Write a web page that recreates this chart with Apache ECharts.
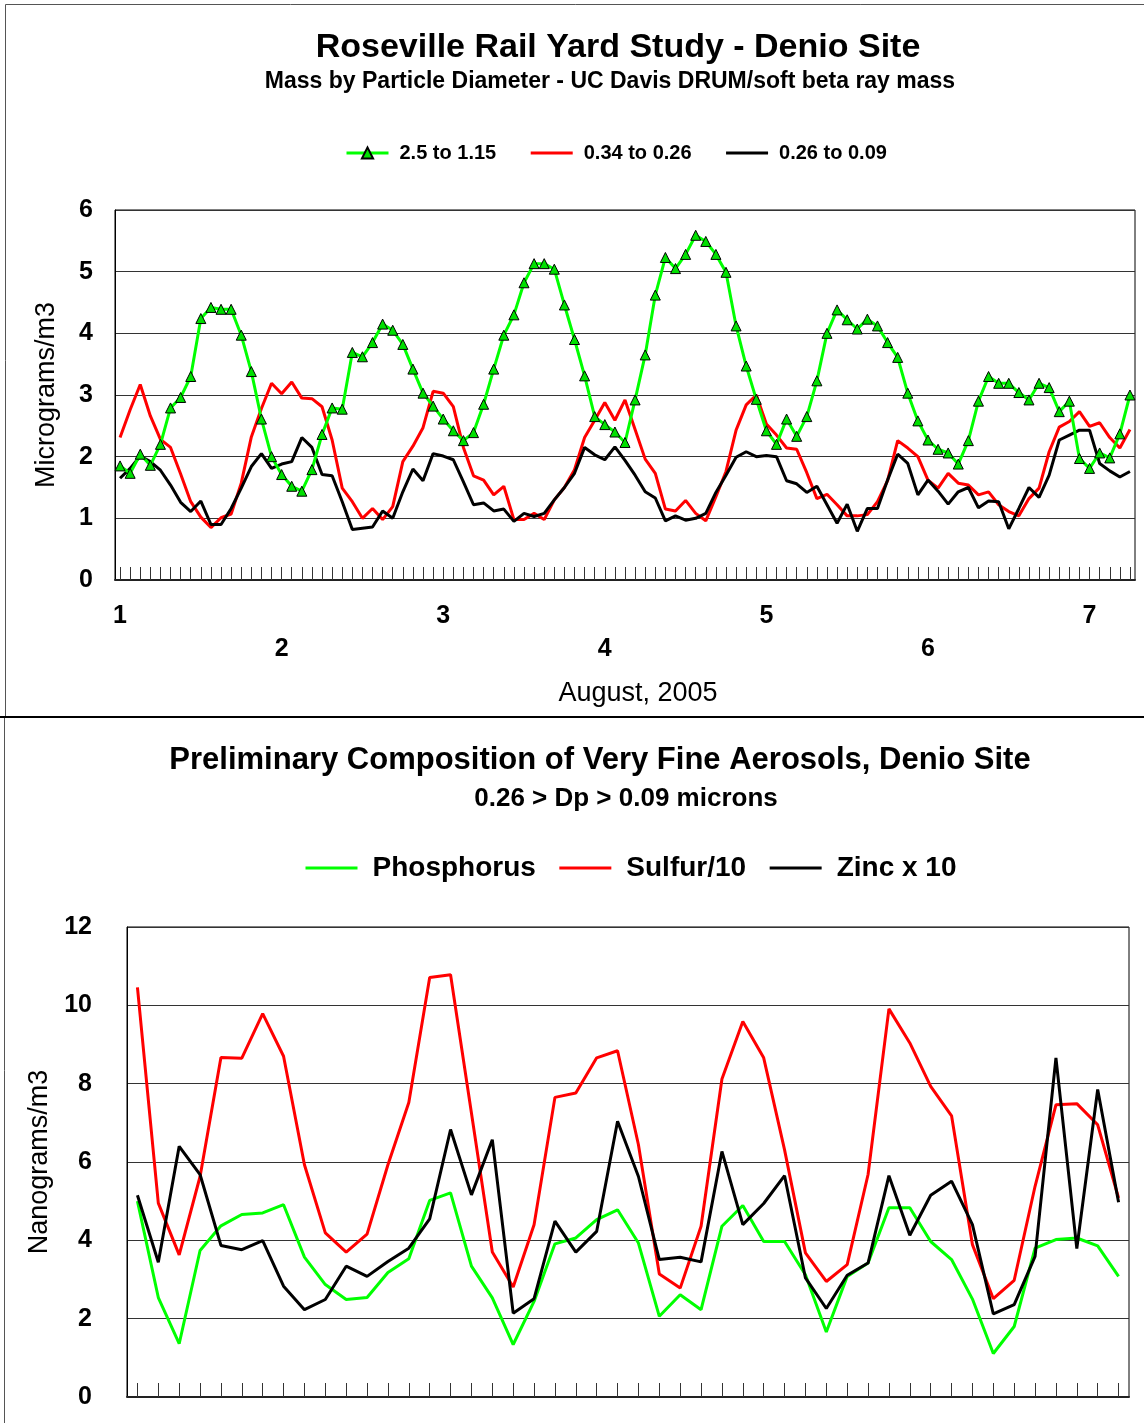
<!DOCTYPE html>
<html>
<head>
<meta charset="utf-8">
<script src="https://cdn.jsdelivr.net/npm/echarts@6/dist/echarts.min.js"></script>
<style>
  html, body { margin: 0; padding: 0; background: #fff; }
  #main { width: 1144px; height: 1423px; }
</style>
</head>
<body>
<div id="main"></div>
<script>
// top chart: mass by particle diameter, 101 samples over Aug 1-7
var dayLabels = ['1', '2', '3', '4', '5', '6', '7'];
var mass25to115 = [1.85,1.73,2.04,1.86,2.20,2.79,2.96,3.30,4.24,4.42,4.39,4.39,3.97,3.38,2.61,2.00,1.71,1.52,1.44,1.79,2.36,2.79,2.77,3.69,3.62,
  3.85,4.15,4.05,3.82,3.42,3.03,2.82,2.61,2.42,2.26,2.39,2.85,3.42,3.97,4.30,4.82,5.13,5.13,5.04,4.46,3.90,3.31,2.65,2.52,2.40,
  2.23,2.92,3.65,4.62,5.23,5.05,5.28,5.59,5.49,5.28,4.99,4.12,3.47,2.93,2.42,2.20,2.61,2.33,2.65,3.23,4.00,4.38,4.22,4.07,4.23,
  4.12,3.85,3.61,3.03,2.58,2.27,2.12,2.06,1.88,2.26,2.90,3.30,3.19,3.19,3.04,2.92,3.19,3.12,2.73,2.90,1.97,1.81,2.06,1.98,2.37,3.00];
var mass034to026 = [2.31,2.76,3.17,2.66,2.28,2.15,1.72,1.27,1.02,0.85,1.01,1.07,1.57,2.32,2.78,3.19,3.02,3.21,2.95,2.94,2.81,2.27,1.49,1.27,1.00,
  1.16,0.98,1.19,1.92,2.17,2.47,3.06,3.03,2.81,2.15,1.69,1.62,1.38,1.52,0.98,0.98,1.08,0.98,1.30,1.50,1.79,2.31,2.59,2.88,2.59,
  2.92,2.44,1.96,1.73,1.15,1.12,1.29,1.08,0.96,1.35,1.76,2.43,2.84,3.00,2.53,2.35,2.14,2.12,1.74,1.32,1.39,1.22,1.04,1.04,1.06,
  1.27,1.61,2.26,2.14,2.00,1.62,1.49,1.73,1.57,1.54,1.38,1.43,1.22,1.11,1.04,1.32,1.49,2.08,2.48,2.57,2.73,2.49,2.55,2.31,2.14,2.44];
var mass026to009 = [1.65,1.81,2.01,1.92,1.78,1.54,1.26,1.11,1.28,0.90,0.90,1.16,1.49,1.84,2.05,1.81,1.88,1.92,2.31,2.15,1.71,1.69,1.27,0.82,0.84,
  0.86,1.12,1.00,1.43,1.80,1.61,2.05,2.01,1.95,1.59,1.22,1.25,1.12,1.15,0.95,1.08,1.03,1.08,1.30,1.50,1.73,2.15,2.03,1.95,2.16,
  1.94,1.70,1.43,1.33,0.96,1.04,0.97,1.00,1.08,1.42,1.70,1.99,2.08,2.00,2.02,2.00,1.61,1.56,1.42,1.52,1.22,0.92,1.23,0.79,1.16,
  1.16,1.62,2.04,1.89,1.38,1.62,1.44,1.23,1.43,1.50,1.17,1.28,1.27,0.83,1.16,1.50,1.34,1.70,2.27,2.35,2.43,2.43,1.89,1.77,1.67,1.76];
var stepsPerDay = 16;
var massSteps = mass25to115.map(function (v, i) { return String(i); });

// bottom chart: composition of very fine aerosols, 48 samples
var phosphorus = [5.00,2.54,1.36,3.74,4.37,4.66,4.70,4.91,3.57,2.87,2.49,2.54,
  3.18,3.53,5.02,5.21,3.34,2.53,1.34,2.44,3.91,4.06,4.53,4.78,
  3.93,2.06,2.61,2.23,4.36,4.89,3.97,3.97,3.12,1.66,3.08,3.42,
  4.83,4.83,3.97,3.51,2.50,1.11,1.80,3.80,4.02,4.06,3.86,3.08];
var sulfurDiv10 = [10.46,4.95,3.63,5.63,8.67,8.65,9.79,8.70,5.93,4.19,3.70,4.16,
  5.93,7.52,10.71,10.78,7.25,3.70,2.81,4.40,7.65,7.76,8.66,8.84,
  6.44,3.14,2.78,4.36,8.12,9.59,8.66,6.31,3.68,2.95,3.38,5.68,
  9.91,9.04,7.93,7.18,3.89,2.51,2.98,5.38,7.46,7.49,6.95,5.08];
var zincX10 = [5.15,3.44,6.40,5.68,3.87,3.76,3.99,2.83,2.23,2.49,3.34,3.08,
  3.46,3.80,4.55,6.83,5.16,6.57,2.14,2.51,4.49,3.70,4.23,7.04,
  5.63,3.51,3.57,3.45,6.27,4.40,4.94,5.65,3.04,2.26,3.11,3.42,
  5.65,4.13,5.15,5.51,4.40,2.12,2.36,3.59,8.66,3.79,7.85,4.97];
var compSteps = phosphorus.map(function (v, i) { return String(i); });

var FONT = '"Liberation Sans", Arial, sans-serif';
var noMarker = { opacity: 0 };

var chart = echarts.init(document.getElementById('main'));
var option = {
  animation: false,
  backgroundColor: '#fff',
  textStyle: { fontFamily: FONT, color: '#000' },
  title: [
    { text: 'Roseville Rail Yard Study - Denio Site', left: 618, top: 31, padding: 0, textAlign: 'center',
      textStyle: { fontSize: 34, fontWeight: 'bold', fontFamily: FONT, color: '#000' } },
    { text: 'Mass by Particle Diameter - UC Davis DRUM/soft beta ray mass', left: 610, top: 70, padding: 0, textAlign: 'center',
      textStyle: { fontSize: 23, fontWeight: 'bold', fontFamily: FONT, color: '#000' } },
    { text: 'Preliminary Composition of Very Fine Aerosols, Denio Site', left: 600, top: 745, padding: 0, textAlign: 'center',
      textStyle: { fontSize: 31, fontWeight: 'bold', fontFamily: FONT, color: '#000' } },
    { text: '0.26 > Dp > 0.09 microns', left: 626, top: 786, padding: 0, textAlign: 'center',
      textStyle: { fontSize: 26, fontWeight: 'bold', fontFamily: FONT, color: '#000' } }
  ],
  legend: [
    {
      data: ['2.5 to 1.15', { name: '0.34 to 0.26', itemStyle: noMarker }, { name: '0.26 to 0.09', itemStyle: noMarker }],
      left: 345, top: 143, padding: 0,
      itemWidth: 42, itemHeight: 14, itemGap: 33,
      lineStyle: { width: 3 },
      textStyle: { fontSize: 20, fontWeight: 'bold', fontFamily: FONT, color: '#000', padding: [0, 0, 0, 6] }
    },
    {
      data: [{ name: 'Phosphorus', itemStyle: noMarker }, { name: 'Sulfur/10', itemStyle: noMarker }, { name: 'Zinc x 10', itemStyle: noMarker }],
      left: 304, top: 854, padding: 0,
      itemWidth: 52, itemHeight: 14, itemGap: 22,
      lineStyle: { width: 3 },
      textStyle: { fontSize: 28, fontWeight: 'bold', fontFamily: FONT, color: '#000', padding: [0, 0, 0, 10] }
    }
  ],
  grid: [
    { left: 115, top: 210, width: 1020, height: 370, show: true, borderColor: '#000', borderWidth: 1, backgroundColor: '#fff' },
    { left: 127, top: 927, width: 1002, height: 470, show: true, borderColor: '#000', borderWidth: 1, backgroundColor: '#fff' }
  ],
  xAxis: [
    {
      type: 'category', gridIndex: 0, data: massSteps, boundaryGap: true,
      name: 'August, 2005', nameLocation: 'middle', nameGap: 100,
      nameTextStyle: { fontSize: 27, fontFamily: FONT, color: '#000', padding: [0, 0, 0, 26] },
      axisLine: { lineStyle: { color: '#222', width: 2 } },
      axisTick: { show: true, inside: true, length: 13, interval: 0, alignWithLabel: true, lineStyle: { color: '#333', width: 1 } },
      axisLabel: {
        interval: function (index) { return index % stepsPerDay === 0; },
        formatter: function (value, index) {
          var k = Math.round(index / stepsPerDay);
          var lab = dayLabels[k] || '';
          return k % 2 === 1 ? '\n' + lab : lab;
        },
        margin: 20, lineHeight: 33, fontSize: 25, fontWeight: 'bold', fontFamily: FONT, color: '#000'
      },
      splitLine: { show: false }
    },
    {
      type: 'category', gridIndex: 1, data: compSteps, boundaryGap: true,
      axisLine: { lineStyle: { color: '#222', width: 2 } },
      axisTick: { show: true, inside: true, length: 14, interval: 0, alignWithLabel: true, lineStyle: { color: '#333', width: 1 } },
      axisLabel: { show: false },
      splitLine: { show: false }
    }
  ],
  yAxis: [
    {
      type: 'value', gridIndex: 0, min: 0, max: 6, interval: 1,
      name: 'Micrograms/m3', nameLocation: 'middle', nameGap: 55,
      nameTextStyle: { fontSize: 27, fontFamily: FONT, color: '#000' },
      axisLine: { show: true, lineStyle: { color: '#000', width: 1 } },
      axisTick: { show: false },
      axisLabel: { margin: 22, fontSize: 25, fontWeight: 'bold', fontFamily: FONT, color: '#000' },
      splitLine: { show: true, lineStyle: { color: '#333', width: 1 } }
    },
    {
      type: 'value', gridIndex: 1, min: 0, max: 12, interval: 2,
      name: 'Nanograms/m3', nameLocation: 'middle', nameGap: 69,
      nameTextStyle: { fontSize: 27, fontFamily: FONT, color: '#000' },
      axisLine: { show: true, lineStyle: { color: '#000', width: 1 } },
      axisTick: { show: false },
      axisLabel: { margin: 35, fontSize: 25, fontWeight: 'bold', fontFamily: FONT, color: '#000' },
      splitLine: { show: true, lineStyle: { color: '#333', width: 1 } }
    }
  ],
  series: [
    {
      name: '2.5 to 1.15', type: 'line', xAxisIndex: 0, yAxisIndex: 0, data: mass25to115,
      symbol: 'triangle', symbolSize: 10, showSymbol: true, showAllSymbol: true,
      lineStyle: { color: '#00ff00', width: 3 },
      itemStyle: { color: '#00e000', borderColor: '#000', borderWidth: 1 },
      z: 3
    },
    {
      name: '0.34 to 0.26', type: 'line', xAxisIndex: 0, yAxisIndex: 0, data: mass034to026,
      symbol: 'none', lineStyle: { color: '#ff0000', width: 3 }, itemStyle: { color: '#ff0000' }, z: 2
    },
    {
      name: '0.26 to 0.09', type: 'line', xAxisIndex: 0, yAxisIndex: 0, data: mass026to009,
      symbol: 'none', lineStyle: { color: '#000', width: 3 }, itemStyle: { color: '#000' }, z: 2
    },
    {
      name: 'Phosphorus', type: 'line', xAxisIndex: 1, yAxisIndex: 1, data: phosphorus,
      symbol: 'none', lineStyle: { color: '#00ff00', width: 3 }, itemStyle: { color: '#00ff00' }
    },
    {
      name: 'Sulfur/10', type: 'line', xAxisIndex: 1, yAxisIndex: 1, data: sulfurDiv10,
      symbol: 'none', lineStyle: { color: '#ff0000', width: 3 }, itemStyle: { color: '#ff0000' }
    },
    {
      name: 'Zinc x 10', type: 'line', xAxisIndex: 1, yAxisIndex: 1, data: zincX10,
      symbol: 'none', lineStyle: { color: '#000', width: 3 }, itemStyle: { color: '#000' }
    }
  ],
  graphic: [
    { type: 'rect', silent: true, shape: { x: 5.5, y: 4.5, width: 1150, height: 712 }, style: { fill: 'none', stroke: '#555', lineWidth: 1 } },
    { type: 'rect', silent: true, shape: { x: 4.5, y: 717, width: 1150, height: 720 }, style: { fill: 'none', stroke: '#555', lineWidth: 1 } },
    { type: 'line', silent: true, shape: { x1: 0, y1: 717, x2: 1144, y2: 717 }, style: { stroke: '#000', lineWidth: 2 } }
  ]
};
option && chart.setOption(option);
</script>
</body>
</html>
